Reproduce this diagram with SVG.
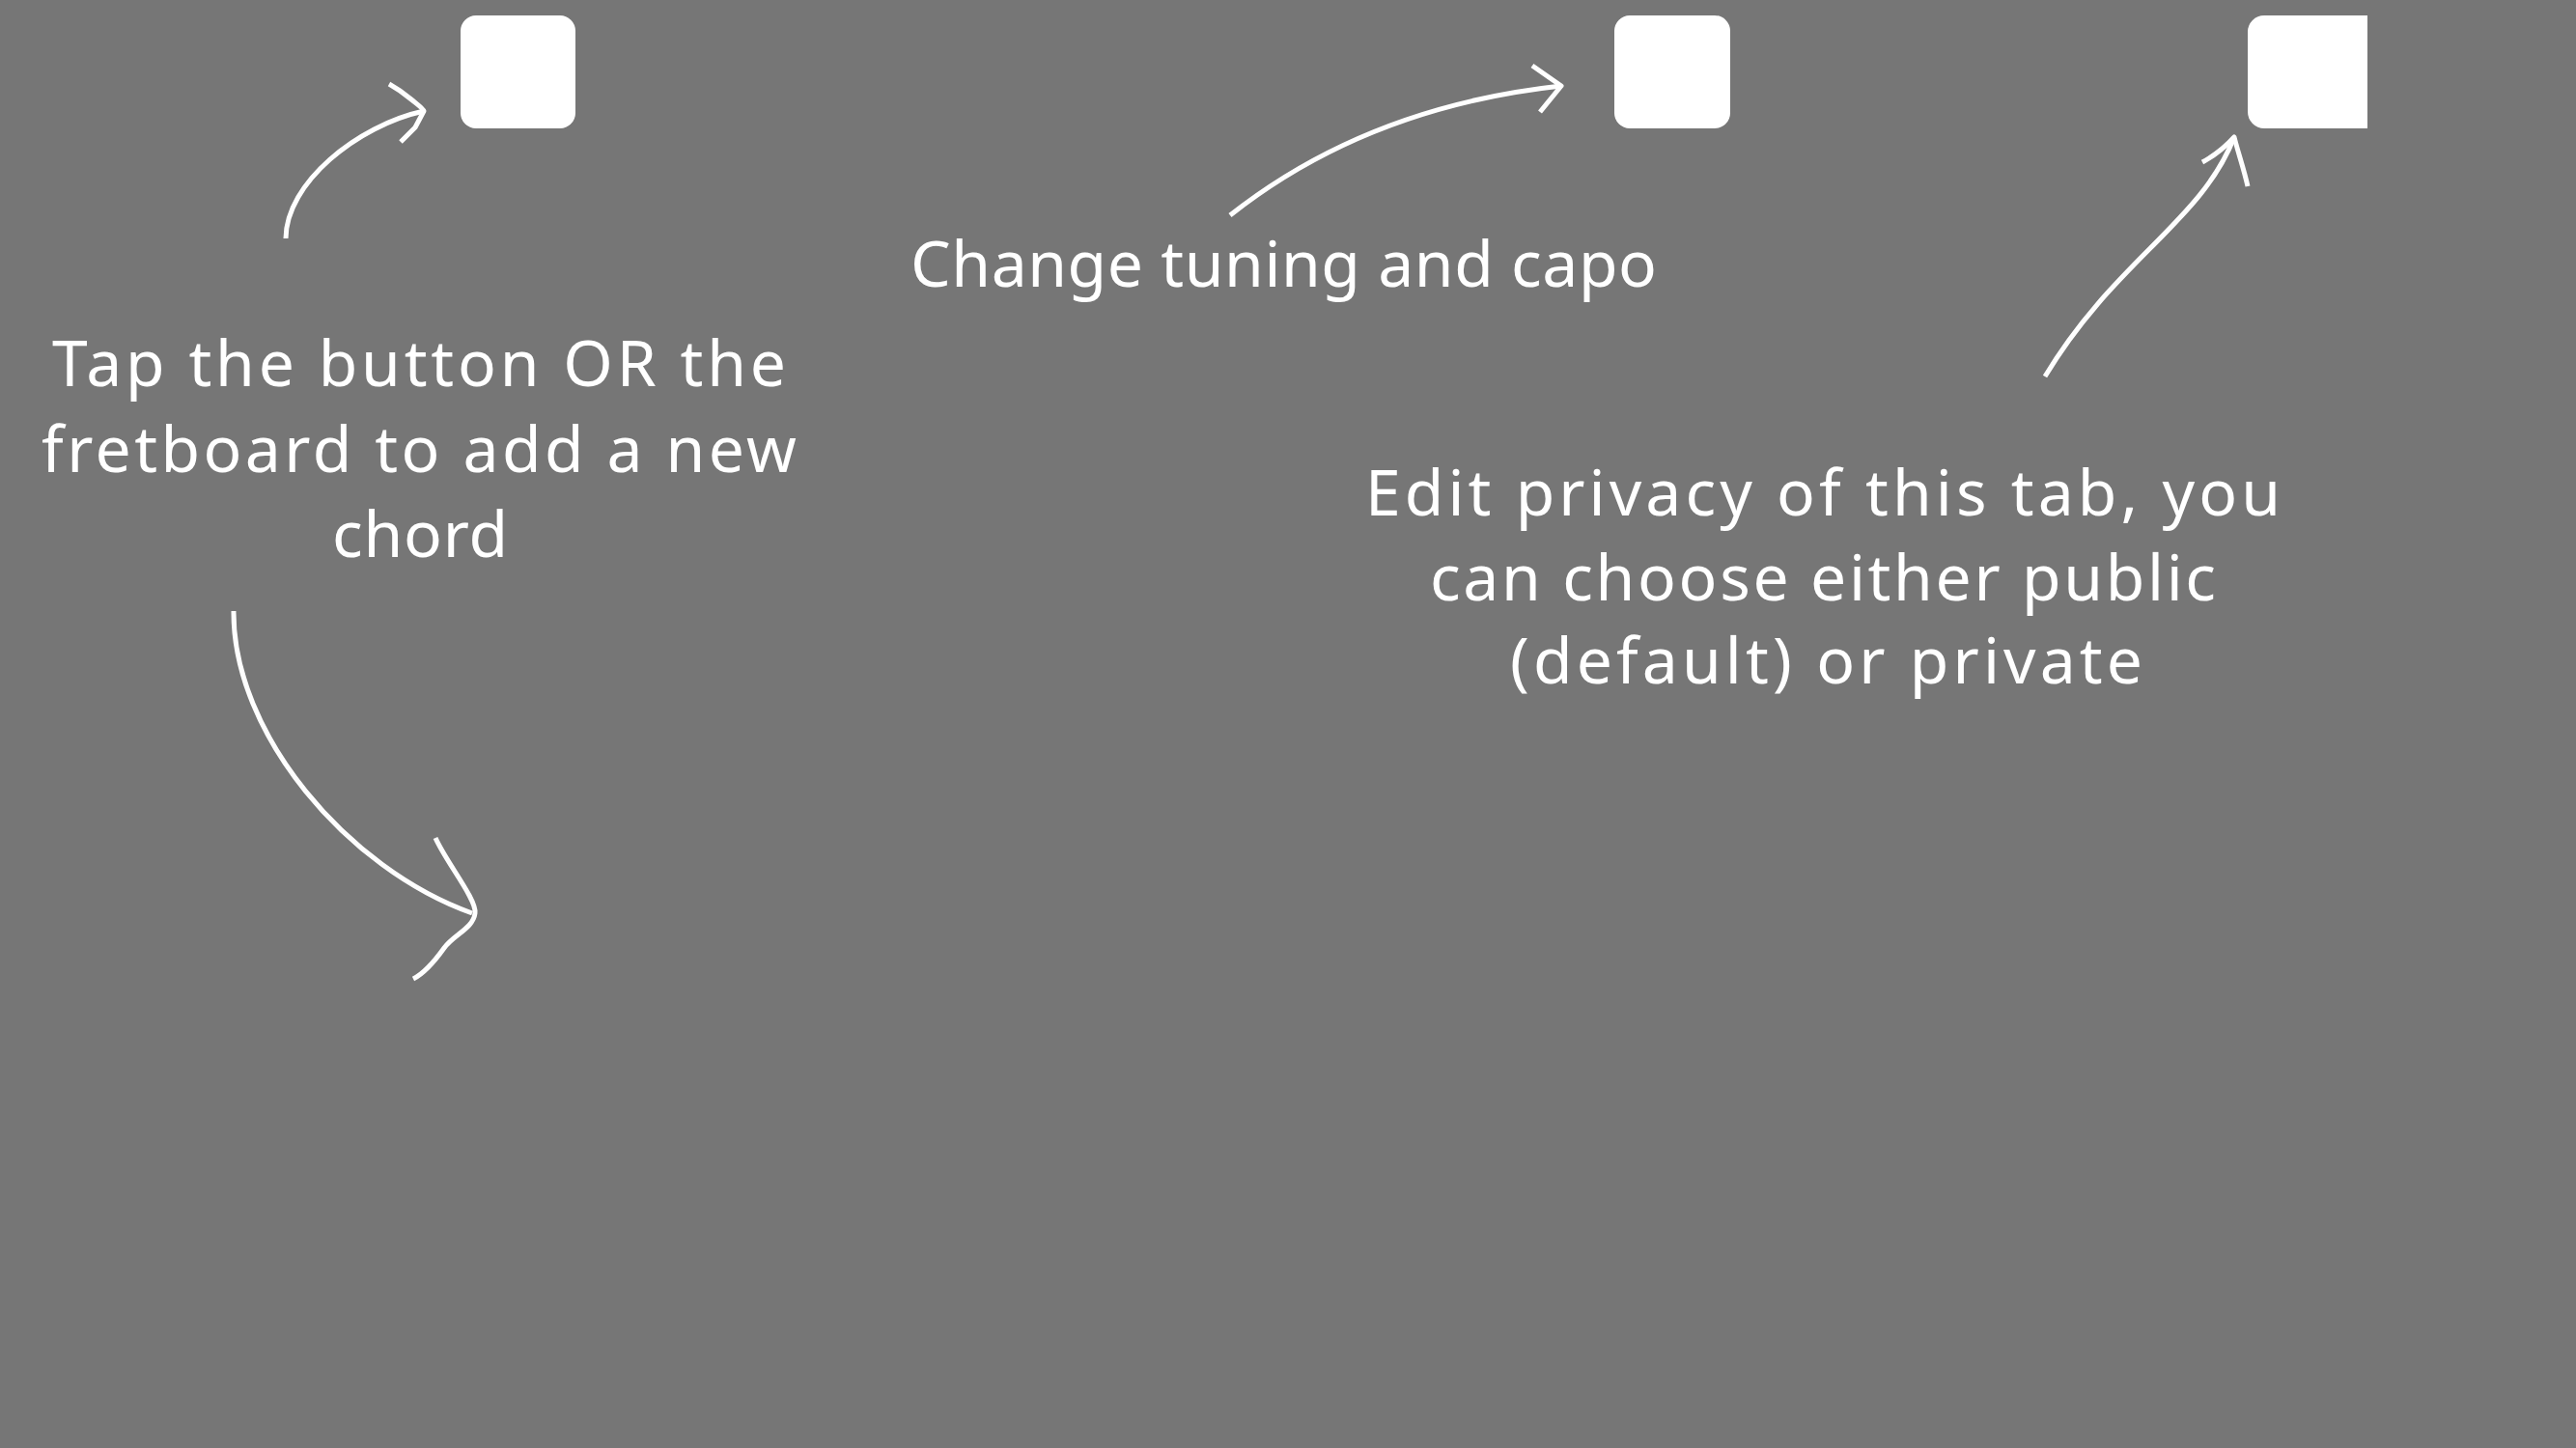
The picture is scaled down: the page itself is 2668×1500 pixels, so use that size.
<svg xmlns="http://www.w3.org/2000/svg" width="2668" height="1500" viewBox="0 0 2668 1500">
<style>
.bg{fill:#767676}
.box{fill:#ffffff}
.lbl{fill:#ffffff;font-family:"Noto Sans","DejaVu Sans",sans-serif;font-size:66px}
.conn{fill:none;stroke:#ffffff;stroke-width:5;stroke-linecap:butt;stroke-linejoin:round}
</style>
<rect class="bg" x="0" y="0" width="2668" height="1500"/>
<g id="node-button-1">
<rect class="box" x="477" y="16" width="119" height="117" rx="16" ry="16"/>
</g>
<g id="node-button-2">
<rect class="box" x="1672" y="16" width="120" height="117" rx="16" ry="16"/>
</g>
<g id="node-button-3">
<path class="box" d="M2345 16 H2452 V133 H2345 A17 17 0 0 1 2328 116 V33 A17 17 0 0 1 2345 16 Z"/>
</g>
<g id="label-add-chord">
<text class="lbl" x="54" y="400" textLength="760" lengthAdjust="spacing">Tap the button OR the</text>
<text class="lbl" x="43" y="489" textLength="782" lengthAdjust="spacing">fretboard to add a new</text>
<text class="lbl" x="344" y="577" textLength="182" lengthAdjust="spacing">chord</text>
</g>
<g id="label-tuning">
<text class="lbl" x="943" y="297" textLength="773" lengthAdjust="spacing">Change tuning and capo</text>
</g>
<g id="label-privacy">
<text class="lbl" x="1414" y="534" textLength="948" lengthAdjust="spacing">Edit privacy of this tab, you</text>
<text class="lbl" x="1481" y="622" textLength="814" lengthAdjust="spacing">can choose either public</text>
<text class="lbl" x="1564" y="708" textLength="655" lengthAdjust="spacing">(default) or private</text>
</g>
<g id="connectors">
<path class="conn" d="M296 247 C 296 190, 370 130, 439 115"/>
<path class="conn" d="M403 87 C 412 92, 420 98, 426 103 C 432 108, 438 112, 439 115 L 430 132 L 415 147"/>
<path class="conn" d="M242 633 C 241 760, 360 900, 489 946"/>
<path class="conn" d="M451 868 C 462 893, 494 932, 492 946 C 490 962, 470 968, 460 982 C 450 996, 440 1008, 428 1014"/>
<path class="conn" d="M1274 223 C 1360 155, 1470 105, 1617 89"/>
<path class="conn" d="M1587 68 L 1617 89 L 1595 116"/>
<path class="conn" d="M2118 390 C 2190 270, 2280 230, 2314 142"/>
<path class="conn" d="M2281 168 C 2292 162, 2305 152, 2314 142 C 2318 158, 2324 175, 2328 193"/>
</g>
</svg>
